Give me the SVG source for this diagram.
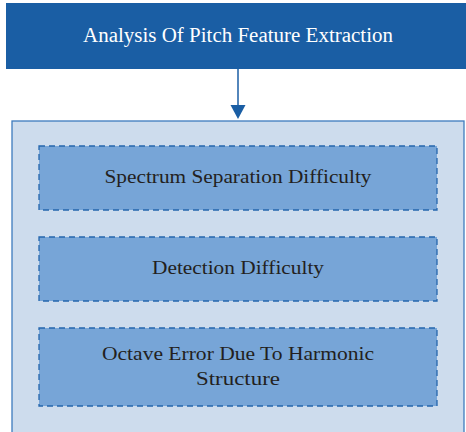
<svg xmlns="http://www.w3.org/2000/svg" width="466" height="432" viewBox="0 0 466 432">
  <style>
    text { font-family: 'Liberation Serif', 'Times New Roman', serif; text-anchor: middle; }
    .title { font-size: 20px; fill: #ffffff; }
    .label { font-size: 19px; fill: #231f20; }
    .item { fill: #77a5d7; stroke: #2466ad; stroke-width: 1.3; stroke-dasharray: 6 4; }
  </style>
  <rect width="466" height="432" fill="#ffffff"/>

  <g id="head">
    <rect x="6" y="3" width="461" height="66" fill="#1a5ea4"/>
    <text class="title" x="238" y="42" textLength="310" lengthAdjust="spacingAndGlyphs">Analysis Of Pitch Feature Extraction</text>
  </g>

  <g id="connectors">
    <line x1="238" y1="69" x2="238" y2="105" stroke="#1a5ea4" stroke-width="1.5"/>
    <path d="M230.5,105 L245.5,105 L238,119 Z" fill="#1a5ea4"/>
  </g>

  <g id="container">
    <rect x="12" y="121" width="452" height="320" fill="#cddced" stroke="#3d7bbd" stroke-width="1.3"/>
  </g>

  <g id="spectrum">
    <rect class="item" x="39" y="146" width="398" height="64"/>
    <text class="label" x="238" y="183" textLength="267" lengthAdjust="spacingAndGlyphs">Spectrum Separation Difficulty</text>
  </g>

  <g id="detection">
    <rect class="item" x="39" y="237" width="398" height="64"/>
    <text class="label" x="238" y="274" textLength="172" lengthAdjust="spacingAndGlyphs">Detection Difficulty</text>
  </g>

  <g id="octave">
    <rect class="item" x="39" y="328" width="398" height="78"/>
    <text class="label" x="238" y="360" textLength="272" lengthAdjust="spacingAndGlyphs">Octave Error Due To Harmonic</text>
    <text class="label" x="238" y="385" textLength="84" lengthAdjust="spacingAndGlyphs">Structure</text>
  </g>
</svg>
